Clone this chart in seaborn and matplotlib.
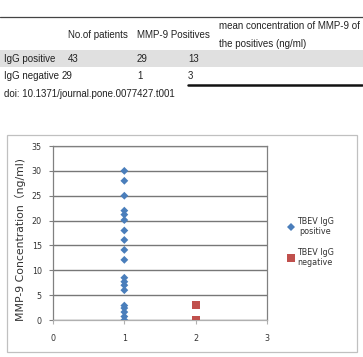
import numpy as np
import pandas as pd
import matplotlib
matplotlib.use("Agg")
import matplotlib.pyplot as plt
import seaborn as sns
from matplotlib.patches import Rectangle

# table data
col_headers = ["No.of patients", "MMP-9 Positives", "mean concentration of MMP-9 of\nthe positives (ng/ml)"]
row_labels = ["IgG positive", "IgG negative"]
n_patients = ["43", "29"]
mmp9_pos = ["29", "1"]
mean_conc = ["13", "3"]
doi_text = "doi: 10.1371/journal.pone.0077427.t001"

# chart data
pos_x = [1] * 19
pos_y = [30, 28, 25, 22, 21.2, 20.1, 18, 16.1, 14.1, 12.1, 8.5, 7.7, 7.0, 6.0, 2.9, 2.4, 1.6, 0.7, 0]
neg_x = [2, 2]
neg_y = [3.1, 0]
group_names = ["TBEV IgG\npositive", "TBEV IgG\nnegative"]
y_ticks = [0, 5, 10, 15, 20, 25, 30, 35]
x_ticks = [0, 1, 2, 3]

W, H = 363, 357
sns.set_style("white")
plt.rcParams["font.family"] = ["DejaVu Sans", "Noto Sans CJK SC"]

fig = plt.figure(figsize=(W / 100, H / 100), dpi=100)

def fx(px):
    return px / W

def fy(py):
    return 1 - py / H

# ---- table part ----
tcol = "#222222"
tfont = ["Liberation Sans", "DejaVu Sans"]
fs = 7.0
fig.add_artist(plt.Line2D([0, 1], [fy(17), fy(17)], color="#444444", lw=0.9))
fig.add_artist(Rectangle((0, fy(67)), 1, fy(50) - fy(67), color="#e0e0e0", lw=0, zorder=0))
fig.add_artist(plt.Line2D([fx(188), fx(362)], [fy(85), fy(85)], color="#111111", lw=1.8))

fig.text(fx(68), fy(35), col_headers[0], fontsize=fs, color=tcol, va="center", family=tfont)
fig.text(fx(137), fy(35), col_headers[1], fontsize=fs, color=tcol, va="center", family=tfont)
fig.text(fx(219), fy(35), col_headers[2], fontsize=fs, color=tcol, va="center", family=tfont,
         linespacing=1.9)

row_y = [59, 76]
num_x = [[68, 137, 188], [61.5, 137, 188]]
for i, lab in enumerate(row_labels):
    fig.text(fx(4), fy(row_y[i]), lab, fontsize=fs, color=tcol, va="center", family=tfont)
    vals = [n_patients[i], mmp9_pos[i], mean_conc[i]]
    for v, xx in zip(vals, num_x[i]):
        fig.text(fx(xx), fy(row_y[i]), v, fontsize=fs, color=tcol, va="center", family=tfont)
fig.text(fx(4), fy(94), doi_text, fontsize=fs, color=tcol, va="center", family=tfont)

# ---- chart part ----
fig.add_artist(Rectangle((fx(7), fy(352)), fx(357) - fx(7), fy(135) - fy(352),
                         fill=False, edgecolor="#c0c0c0", lw=0.9))

ax = fig.add_axes([fx(53), fy(320), fx(267) - fx(53), fy(146) - fy(320)])

df = pd.DataFrame({
    "x": pos_x + neg_x,
    "y": pos_y + neg_y,
    "group": [group_names[0]] * len(pos_x) + [group_names[1]] * len(neg_x),
})
sns.scatterplot(data=df, x="x", y="y", hue="group", style="group",
                palette=["#4a7ebb", "#c0504d"], markers=["D", "s"],
                size="group", sizes=[16, 34], edgecolor="none", ax=ax, zorder=3)

ax.set_xlim(0, 3)
ax.set_ylim(0, 35)
ax.set_xticks(x_ticks)
ax.set_yticks(y_ticks)
ax.set_xlabel("")
ax.set_ylabel("MMP-9 Concentration（ng/ml)", fontsize=7.8, color="#333333", labelpad=6)
ax.yaxis.set_label_coords(-0.125, 0.46)
ax.grid(axis="y", color="#777777", lw=1.0)
ax.set_axisbelow(True)
for side in ["left", "right", "top"]:
    ax.spines[side].set_color("#808080")
    ax.spines[side].set_linewidth(0.9)
ax.spines["bottom"].set_color("#b0b0b0")
ax.spines["bottom"].set_linewidth(0.9)
ax.tick_params(axis="y", length=3, width=0.8, color="#808080", labelsize=5.8,
               labelcolor="#333333", pad=5, left=True)
ax.tick_params(axis="x", length=3, width=0.8, color="#b0b0b0", labelsize=5.8,
               labelcolor="#333333", pad=7, bottom=True)

handles, labels = ax.get_legend_handles_labels()
ax.legend(handles, labels, loc="center left", bbox_to_anchor=(fx(283), fy(242)),
          bbox_transform=fig.transFigure, frameon=False, fontsize=5.8,
          handletextpad=0.1, labelspacing=1.5, borderpad=0, handlelength=1.1)
for t in ax.get_legend().get_texts():
    t.set_multialignment("center")
    t.set_color("#333333")

fig.savefig("out.png", dpi=100)
